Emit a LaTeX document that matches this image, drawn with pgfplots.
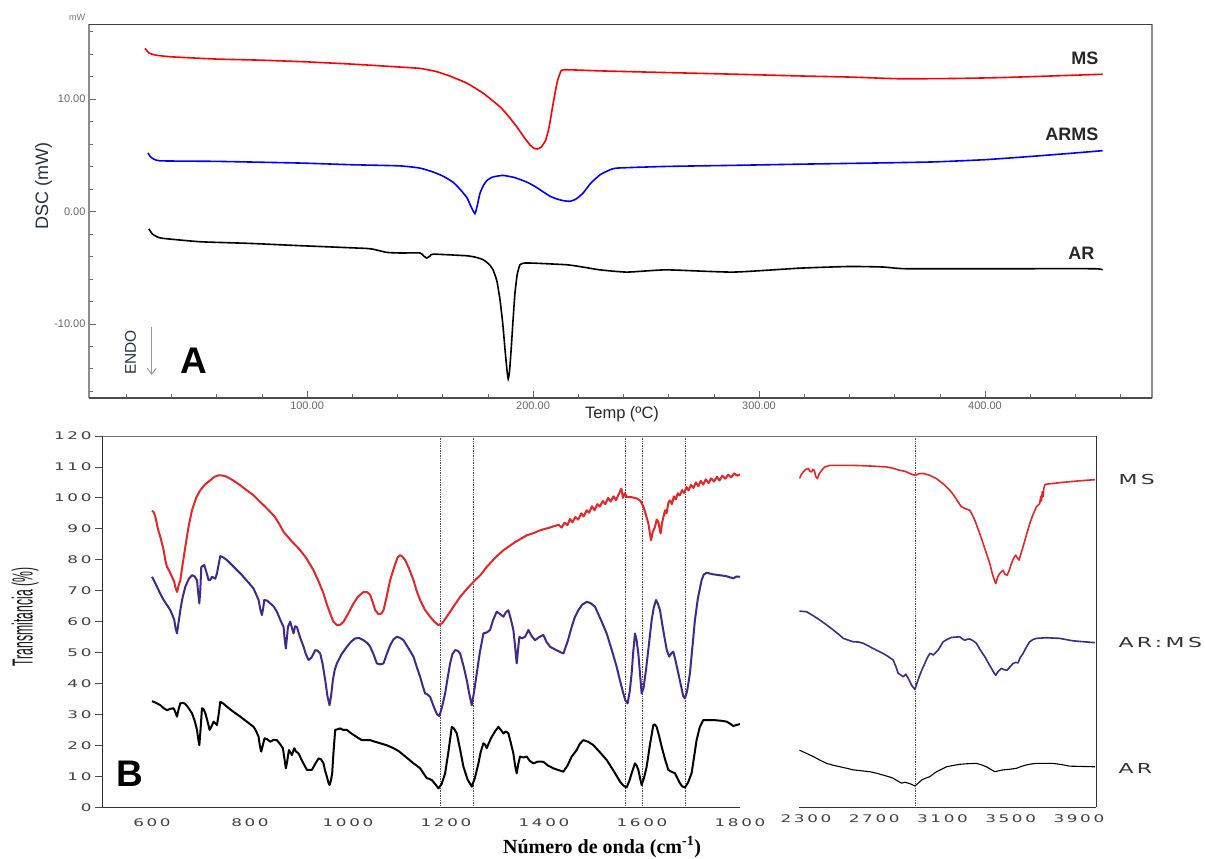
\documentclass[border=0pt]{standalone}
\usepackage{pgfplots}
\pgfplotsset{compat=1.18}
\usetikzlibrary{arrows.meta}
\usepackage{fontspec}
\setmainfont{Liberation Sans}
\newfontfamily\wide[FakeStretch=1.6,LetterSpace=25]{DejaVu Sans}
\newfontfamily\narrow[FakeStretch=0.42]{Liberation Sans}
\newfontfamily\serifb{Liberation Serif}
\definecolor{navy}{RGB}{40,45,70}
\definecolor{irred}{RGB}{228,38,38}
\definecolor{irblue}{RGB}{62,42,140}
\begin{document}
\begin{tikzpicture}
\useasboundingbox (0,0) rectangle (1205pt,-859pt);
% ================= Panel A =================
\begin{axis}[name=A, at={(89pt,-24pt)}, anchor=north west, scale only axis,
  width=1063pt, height=374pt,
  xmin=3.5, xmax=473.9, ymin=-16.6, ymax=16.67,
  xtick={100,200,300,400}, xticklabels={100.00,200.00,300.00,400.00},
  ytick={-10,0,10}, yticklabels={-10.00,0.00,10.00},
  minor xtick={20,40,...,460}, minor ytick={-16,-14,...,16},
  tick pos=left, tick align=inside, major tick length=7pt, minor tick length=4pt,
  tick style={black!60, line width=0.6pt},
  tick label style={font=\fontsize{11}{12}\selectfont, text=black!60},
  /pgf/number format/assume math mode=true,
  axis line style={draw=none}, clip=false]
\addplot[red, line width=1.6pt, smooth, tension=0.3] coordinates {
(28.3,14.5)(30,14.1)(33,13.9)(40,13.75)(60,13.55)(80,13.45)(100,13.3)(120,13.1)(141.2,12.84)(150,12.72)(157,12.45)(163,12.05)(170.8,11.4)(178,10.5)(185.4,9.3)(189,8.5)(192.9,7.5)(196,6.6)(198.7,5.9)(200.5,5.6)(201.8,5.55)(203.5,5.7)(205.5,6.3)(207,7.4)(208.3,8.9)(209.6,10.4)(210.8,11.6)(212,12.3)(213.5,12.6)(229.6,12.5)(259,12.35)(290,12.2)(318,12.05)(340,11.95)(362,11.8)(385,11.82)(406.6,11.9)(430,12.05)(452,12.2)};
\addplot[blue, line width=1.6pt, smooth, tension=0.3] coordinates {
(29.6,5.2)(31,4.8)(35,4.5)(60,4.45)(97,4.3)(120,4.15)(141,4.05)(150,3.85)(155.8,3.5)(160,3.15)(164.6,2.6)(168,1.9)(170.8,1.2)(172.6,0.4)(174.3,-0.2)(175.4,0.6)(176.5,1.6)(178,2.3)(179.6,2.75)(182,3.05)(186.7,3.2)(192,3.0)(197.3,2.6)(201,2.2)(204.4,1.75)(207.5,1.35)(210.6,1.1)(213.5,0.95)(216.4,0.9)(219,1.1)(222,1.6)(225.5,2.5)(229.6,3.25)(233,3.6)(237,3.85)(259,4.0)(290,4.1)(318,4.2)(350,4.3)(377,4.4)(400,4.6)(421,4.9)(440,5.2)(452,5.4)};
\addplot[black, line width=1.6pt, smooth, tension=0.3] coordinates {
(30,-1.56)(31.5,-2.0)(33.5,-2.25)(36.3,-2.4)(52.7,-2.7)(75,-2.85)(97,-3.05)(126.5,-3.3)(131,-3.45)(135.4,-3.65)(141,-3.7)(150,-3.7)(151.5,-3.95)(153,-4.15)(154.5,-3.95)(155.8,-3.8)(170.8,-3.95)(175,-4.1)(177.9,-4.3)(180.5,-4.7)(182.3,-5.2)(184,-6.2)(185.4,-7.9)(186.6,-10)(187.6,-12.3)(188.4,-14)(189,-14.9)(189.6,-14.2)(190.3,-12.3)(191.2,-9.5)(192,-7.25)(193,-5.6)(194.2,-4.75)(196,-4.6)(200,-4.6)(215,-4.75)(222,-4.95)(229.6,-5.2)(241.6,-5.4)(259,-5.2)(288.5,-5.4)(318,-5.05)(340,-4.9)(355,-4.95)(365,-5.1)(406,-5.1)(448,-5.1)(452,-5.2)};
\draw[black!45, line width=1.6pt] (rel axis cs:0,0) -- (rel axis cs:0,1);
\draw[black!45, line width=1.6pt] (rel axis cs:1,0) -- (rel axis cs:1,1);
\draw[black!70, line width=1.2pt] (rel axis cs:0,0) -- (rel axis cs:1,0);
\draw[black!75, line width=0.7pt] (rel axis cs:0,1) -- (rel axis cs:1,1);
\end{axis}
% Panel A texts
\node[text=black!55, font=\fontsize{9}{10}\selectfont] at (77pt,-17pt) {mW};
\node[rotate=90, text=navy, font=\fontsize{18}{20}\selectfont] at (43.5pt,-186pt) {DSC (mW)};
\node[text=black!85, font=\fontsize{16.5}{18}\selectfont] at (622pt,-414pt) {Temp (ºC)};
\node[rotate=90, text=navy, font=\fontsize{15.5}{17}\selectfont] at (130.5pt,-352.5pt) {ENDO};
\draw[black!40, line width=0.9pt, -{Straight Barb[length=6pt,width=9pt]}] (151.7pt,-327pt) -- (151.7pt,-375pt);
\node[font=\fontsize{37}{40}\selectfont\bfseries] at (193.5pt,-361pt) {A};
\node[anchor=east, text=black!85, font=\fontsize{18}{20}\selectfont\bfseries] at (1102pt,-58pt) {MS};
\node[anchor=east, text=black!85, font=\fontsize{18}{20}\selectfont\bfseries] at (1102pt,-134.5pt) {ARMS};
\node[anchor=east, text=black!85, font=\fontsize{18}{20}\selectfont\bfseries] at (1098pt,-253pt) {AR};
% ================= Panel B (left) =================
\begin{axis}[name=BL, at={(103pt,-436pt)}, anchor=north west, scale only axis,
  width=637pt, height=371.3pt,
  xmin=500, xmax=1800, ymin=0, ymax=120,
  xtick={600,800,...,1800}, ytick={0,10,...,120},
  axis lines*=left, tick pos=left, tick align=outside,
  xtick style={draw=none}, ytick style={black!70, line width=0.8pt}, major tick length=8pt,
  axis line style={black!80, line width=1pt},
  tick label style={font=\wide\fontsize{10.5}{12}\selectfont, text=black!75},
  /pgf/number format/assume math mode=true,
  /pgf/number format/1000 sep={},
  line join=round]
\addplot[black!70, densely dotted, line width=0.7pt] coordinates {(1188,0)(1188,120)};
\addplot[black!70, densely dotted, line width=0.7pt] coordinates {(1255,0)(1255,120)};
\addplot[black!70, densely dotted, line width=0.7pt] coordinates {(1567,0)(1567,120)};
\addplot[black!70, densely dotted, line width=0.7pt] coordinates {(1600,0)(1600,120)};
\addplot[black!70, densely dotted, line width=0.7pt] coordinates {(1689,0)(1689,120)};
\addplot[irred, line width=2pt] coordinates {
(600,95.8)(603,95.5)(606.8,93.9)(612,90)(617,87.4)(620,85.5)(623.8,83.1)(627,80)(630.6,77.7)(635,76.5)(640.8,74.5)(645,73)(648,71)(651,69.6)(654,71.5)(657.8,73.4)(662,78)(668,84.2)(675,91)(681.6,96)(690,100)(698.6,102.5)(708,104.3)(719,105.7)(727,106.8)(736,107.3)(745,107.2)(753,106.8)(765,105.7)(780,104.1)(793,102.5)(807,100.9)(820,98.8)(834.5,96.6)(850,94)(860,91.5)(868.5,89)(885,86)(902.5,83.1)(915,80.5)(929.7,76.6)(940,73)(950,69.1)(957,65.5)(963.7,62.6)(970,60)(977.3,58.9)(984,59)(991,60)(1000,62.5)(1011.3,65.9)(1020,68)(1031.7,69.6)(1040,69.5)(1045.3,68.6)(1050,66.5)(1055.5,63.7)(1062.3,62.4)(1068,62.6)(1072.5,63.7)(1078,67.5)(1086,73.4)(1095,78)(1101,80.7)(1106.5,81.5)(1111,81)(1116.7,79.9)(1125,77)(1133.6,73.4)(1140,70)(1147.2,67)(1157,63.8)(1167.6,61.6)(1176,60)(1184.6,58.9)(1192,59.5)(1201.6,61.6)(1215,64.8)(1228.8,68)(1245,71)(1259.4,73.4)(1270,75)(1283.2,77.7)(1300,80.6)(1317.2,83.1)(1340,85.6)(1364.7,87.9)(1380,88.7)(1390,89.4)(1400,89.9)(1410,90.3)(1419,90.8)(1430,91.3)(1436,90.4)(1442,92)(1448,91.2)(1453,93.2)(1458,92.1)(1464,93.8)(1470,93)(1476,95)(1481,94)(1487,96)(1492,95.2)(1498,97.3)(1503,96)(1509,98)(1514,97.2)(1520,99)(1525,98)(1531,100)(1536,98.8)(1542,100.5)(1547,99.3)(1553,101.4)(1558,103)(1561,100)(1565,101.5)(1569,100.3)(1580,100.2)(1590,99.8)(1597,99)(1603,97.1)(1608,94.5)(1613,91.7)(1618.3,86.3)(1622,89)(1626.5,90.6)(1630,93)(1633.3,92.3)(1636,90)(1638,88.5)(1641,92)(1644,94)(1647,96)(1650,95)(1654,98.5)(1657,99.2)(1661,98)(1665,100.5)(1669,99.5)(1673,101.5)(1677,100.8)(1682,102.5)(1686,101.6)(1691,103.5)(1695,102.4)(1700,104.2)(1705,103.2)(1710,105)(1715,103.8)(1720,105.5)(1725,104.3)(1730,106)(1736,104.8)(1741,106.3)(1747,105.3)(1753,106.8)(1758,105.6)(1764,107.2)(1770,106.2)(1776,107.5)(1782,106.6)(1788,107.9)(1794,107.2)(1800,107.6)};
\addplot[irblue, line width=2pt] coordinates {
(600,74.5)(605,73)(610.2,71.3)(617,69)(623.8,67)(630,65.5)(637.4,63.7)(642,62)(645.5,60.5)(648,58)(651,56.2)(654,59.5)(657.8,63.7)(662,67.5)(668,71.3)(675,73.8)(681.6,75)(687,74.6)(691.8,73.4)(694.5,69)(696.6,65.9)(698.5,70)(700.6,77.7)(706.7,78.3)(711,76)(715.6,73.4)(719,73.5)(722.4,74.5)(729.2,73.9)(732.6,75.6)(736,78.5)(739.4,81.2)(745,80.8)(753,79.9)(765,78)(780.2,75.6)(795,73)(807.3,70.7)(812,69)(817.5,67)(821,64)(824.3,62.1)(827,64.5)(829.1,67)(835,66.8)(841.3,65.9)(848,65)(854.9,63.2)(862,60.5)(868.5,58.3)(871,54)(873.2,51.3)(875.5,55)(877.4,58.3)(882.1,60)(885.5,58)(888.9,56.2)(892,58.5)(895.7,58.3)(902,55)(909.3,51.9)(914,49.5)(919.5,47.6)(926,48.5)(933.1,50.8)(938,50.6)(943.3,49.7)(948,46.5)(953.5,41.1)(958,36)(962.3,33)(965.5,36)(969.1,41.1)(973,44.5)(977.3,46.5)(987,49.5)(997.7,51.9)(1006,53.5)(1014.7,54.6)(1023,54.7)(1031.7,54)(1040,53)(1045.3,51.9)(1052,49.5)(1058.9,46.5)(1066,46.2)(1072.5,46.5)(1079,49.5)(1086.1,52.4)(1093,54.3)(1099.7,55.1)(1106,54.8)(1113.3,54)(1123,51.5)(1133.6,48.7)(1140,45.5)(1147.2,42.2)(1152,39.5)(1157.4,36.8)(1162,36.5)(1167.6,35.7)(1172,33.8)(1177.8,31.4)(1182,30)(1186.6,29.5)(1192,32.5)(1198.2,36.8)(1203,41.5)(1208.4,46.5)(1213,49.5)(1218.6,50.8)(1224,50.6)(1228.8,49.7)(1236,45.5)(1242.4,41.1)(1247,37)(1252.6,33)(1257,37)(1262.8,43.3)(1269,50)(1276.4,56.2)(1283,56.5)(1289.9,57.3)(1296,60.5)(1303.5,63.2)(1310,62.5)(1317.2,61.6)(1322,63)(1327.3,63.7)(1332,61)(1337.5,57.3)(1341,52)(1344.3,46.5)(1347,51)(1349.8,55.1)(1355,54.6)(1361.3,55.1)(1368.1,57.3)(1375,55.3)(1381.7,54)(1390,55)(1398.7,55.7)(1405,53.5)(1412.3,51.9)(1425,50.8)(1439.5,49.7)(1448,53.5)(1456.5,58.3)(1463,61.5)(1470.1,63.7)(1478,65.5)(1487.1,66.4)(1495,66)(1504.1,64.8)(1515,61)(1527.9,56.2)(1538,51)(1548.3,45.4)(1555,41)(1561.9,36.8)(1566,34.6)(1570.7,33.6)(1575,37.5)(1578.9,43.3)(1582,50)(1585.7,56.2)(1589,54)(1592.5,49.7)(1596,43)(1599.3,36.8)(1603,38.5)(1608.1,44.3)(1614,52.5)(1619.7,60.5)(1624,64.5)(1628.5,67)(1632,66)(1636.7,63.7)(1642,58.5)(1646.9,54)(1651,50.5)(1655.7,48.7)(1660,49.8)(1663.9,50.3)(1669,47)(1674.1,43.3)(1680,39)(1684,36)(1687.6,35.2)(1692,37.5)(1697.8,43.3)(1703,52)(1708,60.5)(1714,67.5)(1721.6,73.4)(1726,75.2)(1731.8,75.8)(1745,75.3)(1759,75)(1772,74.7)(1786.2,74)(1793,74.6)(1800,74.5)};
\addplot[black, line width=2pt] coordinates {
(600,34.3)(608,33.8)(617,33)(624,32)(630.6,31.4)(637,31.8)(644.2,32)(647,31)(651,29.3)(654,31.5)(657.8,33.6)(663,33.8)(668,33.4)(675,32)(681.6,30.4)(687,28)(691.8,25)(694.5,22)(696.6,20.1)(699,25)(702,32)(705,31.8)(708.8,30.4)(713,28)(717.6,25)(721,26)(725.8,27.7)(729,27.2)(732.6,26.6)(736,30)(739.4,34.1)(745,33.6)(753,32.5)(765,31)(780.2,29.3)(795,27.5)(807.3,26)(812,24.8)(817.5,22.8)(820,20)(822.9,18)(826,20)(829.7,22.3)(835,22)(841.3,21.2)(848,21.8)(854.9,21.7)(861,20.5)(867.2,19.1)(870,16)(873.2,12.6)(876,15)(879.4,18.5)(885.5,16.9)(890.3,19.1)(894,18)(899.1,17.4)(907,14.8)(916.1,12.1)(926.3,12.1)(933,14)(939.9,15.8)(945,15.5)(950,14.2)(953,12)(956.9,9.9)(960,8)(962.3,7.2)(965,8.5)(967.7,11)(970.5,18)(973.9,25)(984.1,25.5)(990,25)(997.7,25)(1004,24.2)(1011.3,23.4)(1020,22.5)(1028.3,21.7)(1045.3,21.7)(1055,21.2)(1065.7,20.7)(1080,20)(1092.9,19.1)(1103,18.2)(1113.3,16.9)(1124,15.5)(1133.6,14.2)(1140,13.5)(1147.2,12.6)(1154,11)(1160.8,9.4)(1166,9.2)(1171,8.8)(1178,7.5)(1184.6,6.1)(1191,7.5)(1198.2,11)(1205,18)(1211.8,26)(1216,25.5)(1222,23.9)(1229,18.5)(1235.6,13.1)(1244,9)(1252.6,6.7)(1259,9.5)(1266.2,14.2)(1271,18)(1276.4,20.7)(1280,20.2)(1283.2,19.1)(1288,21)(1293.4,22.8)(1300,24.5)(1307,26)(1312,25)(1317.2,23.9)(1322,24.5)(1327.3,23.9)(1332,21)(1337.5,17.4)(1341,13.5)(1344.3,11)(1347.5,14)(1351.1,16.4)(1358,16.1)(1364.7,16.4)(1371,15)(1378.3,14.2)(1388,14.8)(1398.7,14.7)(1408,13.5)(1419.1,12.6)(1430,12)(1439.5,11.5)(1448,13.5)(1456.5,16.4)(1466.7,18.5)(1473,20.5)(1480.3,21.7)(1490,21.2)(1500.7,20.1)(1514,17.8)(1527.9,15.3)(1542,11.8)(1555.1,8.3)(1562,7)(1568.7,6.4)(1574,8.5)(1578.9,11)(1585.7,14.2)(1589,13.5)(1592.5,12.1)(1596,9.5)(1599.3,7.2)(1604,9.5)(1609.5,13.1)(1616,20)(1623.1,26.6)(1626,26.8)(1629.9,26)(1635,23)(1640.1,19.6)(1647,15.5)(1653.7,12.1)(1660,11.5)(1667.3,11)(1672,9.5)(1677.4,7.8)(1682,6.8)(1687.6,6.4)(1694,8)(1701.2,11)(1706,16)(1711.4,21.7)(1718,26)(1725,28.2)(1745.4,28.2)(1760,28)(1772.6,27.7)(1780,27)(1786.2,26.3)(1793,26.6)(1800,26.9)};
\end{axis}
% ================= Panel B (right) =================
\begin{axis}[name=BR, at={(799.3pt,-436pt)}, anchor=north west, scale only axis,
  width=296.7pt, height=371.3pt,
  xmin=2261, xmax=4000, ymin=0, ymax=120,
  xtick={2300,2700,3100,3500,3900}, ytick=\empty,
  axis x line*=bottom, axis y line*=right, tick align=outside,
  xtick style={draw=none},
  axis line style={black!80, line width=1pt},
  tick label style={font=\wide\fontsize{10.5}{12}\selectfont, text=black!75},
  /pgf/number format/assume math mode=true,
  /pgf/number format/1000 sep={},
  line join=round]
\addplot[black!70, densely dotted, line width=0.7pt] coordinates {(2942,0)(2942,120)};
\addplot[irred, line width=1.6pt] coordinates {
(2261,106.2)(2272,107.5)(2284.4,108.4)(2298,109.2)(2313.7,109.5)(2323,108.6)(2333.2,108.4)(2341,109.2)(2348.8,108.9)(2357,107)(2366.4,106.2)(2378,107.8)(2391.7,108.9)(2410,110)(2440.5,110.5)(2500,110.5)(2577,110.5)(2680,110.3)(2772.3,110)(2810,109.6)(2850.4,108.9)(2880,108.6)(2908.9,107.9)(2925,107.5)(2942,107.3)(2960,107.8)(2987,107.9)(3025,107.3)(3065,106.2)(3105,104.5)(3143,102.5)(3168,100.7)(3191.9,98.7)(3210,97.2)(3231,96.6)(3260.2,96)(3275,94.5)(3289.5,92.8)(3315,89)(3338.3,85.3)(3358,82)(3377.3,78.8)(3390,76)(3400.7,74)(3412.4,72.3)(3424,74.5)(3435.8,75.6)(3455.3,76.6)(3467,75.3)(3478.7,75)(3491,76.5)(3504.1,78.8)(3517,80.5)(3529.5,81.5)(3540,80.5)(3549,79.9)(3560,82)(3572.4,84.2)(3592,88)(3611.5,91.7)(3630,94.5)(3650.5,97.1)(3660,97.6)(3670,98.2)(3676,100.5)(3680,99)(3685,102)(3689,100.3)(3694,103)(3699,104.1)(3705,104.4)(3800,105)(3900,105.5)(3995,105.9)};
\addplot[irblue, line width=1.6pt] coordinates {
(2261,63.4)(2304,63.2)(2340,62)(2382,60.5)(2420,59)(2460,57.3)(2490,56)(2518.6,54.6)(2550,54)(2577,53.5)(2610,53.4)(2635.7,53)(2665,52.2)(2694.2,51.3)(2720,50.6)(2752.8,49.7)(2780,48.8)(2811.3,47.6)(2827,45.5)(2840.6,43.3)(2855,42.8)(2869.9,42.2)(2885,43)(2899.2,41.7)(2910,40.5)(2918.7,39.5)(2928,38.8)(2938.2,38.1)(2950,40)(2963.5,42.2)(2980,44.5)(2996.7,46.5)(3010,48.2)(3026,49.7)(3035,49.6)(3045.5,49.2)(3060,50)(3074.8,50.8)(3090,52.2)(3104,53.5)(3128,54.3)(3152.8,54.9)(3175,55)(3201.6,55.1)(3215,54.5)(3231,54)(3245,54.3)(3260.2,54.4)(3280,53.8)(3299.2,53)(3320,51)(3348,48.7)(3367,46.8)(3387,44.9)(3400,43.6)(3412.4,42.7)(3428,44)(3445.6,44.9)(3460,44.5)(3478.7,44.3)(3496,45.4)(3514,46.5)(3528,46.8)(3543.2,46.7)(3557,48.5)(3572.4,49.7)(3592,51.8)(3611.5,53.5)(3630,54.2)(3650.5,54.6)(3680,54.7)(3709,54.8)(3750,54.7)(3787,54.6)(3825,54.2)(3865.1,53.8)(3930,53.5)(3995,53.2)};
\addplot[black, line width=1.1pt] coordinates {
(2261,18.5)(2300,17.5)(2343,16.4)(2380,15.3)(2421,14.2)(2460,13.6)(2499,13.1)(2540,12.6)(2577,12.1)(2625,11.8)(2674.7,11.5)(2715,11)(2752.8,10.4)(2785,9.9)(2811.3,9.4)(2835,8.6)(2860.1,7.8)(2880,8.1)(2899.2,7.8)(2920,7.4)(2938.2,6.9)(2958,7.8)(2977.2,8.8)(3000,9.4)(3026,9.9)(3045,10.7)(3065,11.5)(3095,12.3)(3123.6,13.1)(3160,13.5)(3201.6,13.9)(3250,14.1)(3299.2,14.2)(3330,13.7)(3357.7,13.1)(3382,12.3)(3406.5,11.5)(3430,11.8)(3455.3,12.1)(3495,12.3)(3533.4,12.6)(3562,13.2)(3592,13.7)(3620,14)(3650.5,14.2)(3700,14.2)(3748,14.2)(3800,13.8)(3845.7,13.3)(3920,13.2)(3995,13.1)};
\end{axis}
% Panel B frame and texts
\draw[black!55, line width=0.8pt] (103pt,-436pt) -- (1096pt,-436pt);
\node[rotate=90, text=black!90, font=\narrow\fontsize{29}{31}\selectfont] at (25pt,-617pt) {Transmitancia (\%)};
\node[font=\serifb\bfseries\fontsize{20}{22}\selectfont] at (602pt,-847pt) {Número de onda (cm\textsuperscript{-1})};
\node[font=\fontsize{37}{40}\selectfont\bfseries] at (130pt,-774pt) {B};
\node[anchor=west, text=black!80, font=\wide\fontsize{13.7}{15}\selectfont] at (1115pt,-480pt) {MS};
\node[anchor=west, text=black!80, font=\wide\fontsize{13.7}{15}\selectfont] at (1115pt,-643pt) {AR:MS};
\node[anchor=west, text=black!80, font=\wide\fontsize{13.7}{15}\selectfont] at (1115pt,-768pt) {AR};
\end{tikzpicture}
\end{document}
